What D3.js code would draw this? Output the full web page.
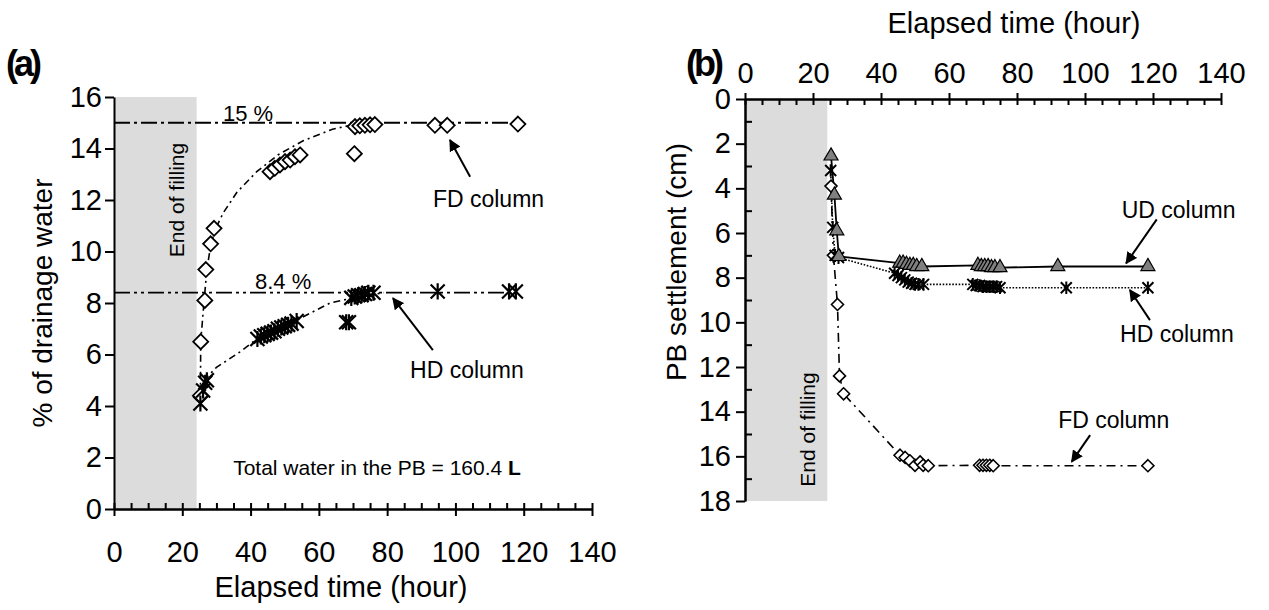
<!DOCTYPE html>
<html>
<head>
<meta charset="utf-8">
<script src="https://cdn.jsdelivr.net/npm/d3@7"></script>
<style>
  body { margin: 0; background: #fff; }
  text { font-family: "Liberation Sans", Arial, sans-serif; fill: #000; }
</style>
</head>
<body>
<script>
// ---- data (elapsed time in hours) ----
const fillEnd = 24.2;

// (a) % of drainage water
const fdDrainA = [[25.3,4.4],[25.4,6.5],[26.6,8.1],[26.9,9.3],[28.3,10.3],[29.3,10.9],
  [45.7,13.1],[47.1,13.23],[48.6,13.36],[50.1,13.49],[51.6,13.55],[53,13.68],[54.5,13.75],
  [70.4,13.8],[70.6,14.85],[72,14.88],[73.5,14.9],[75,14.92],[76.4,14.93],
  [94,14.9],[97.6,14.9],[118.3,14.95]];
const hdDrainA = [[25.3,4.1],[26.1,4.6],[26.7,4.9],[27.2,5.0],
  [42,6.6],[43,6.7],[44,6.75],[45,6.8],[46,6.85],[47,6.9],[48,7.0],[49,7.05],[50,7.1],[51,7.15],[52,7.2],[53.5,7.3],
  [68,7.25],[68.8,7.25],[69.5,8.2],[70.5,8.25],[71.5,8.3],[72.5,8.3],[73.5,8.35],[74.5,8.4],[76,8.4],
  [94.8,8.45],[115.7,8.45],[117.7,8.45]];
// trend curves as they appear in the figure
const fdFitA = [[25.3,4.4],[25.4,6.5],[26.4,8.1],[27.2,9.3],[28.4,10.3],[29.8,10.9],[32,11.5],[36,12.3],
  [41.8,13.1],[48,13.75],[55.4,14.3],[64,14.75],[70,14.92],[75,15]];
const hdFitA = [[25.5,4.3],[27.1,5.1],[30,5.5],[36.9,6.1],[41.8,6.6],[48,7.0],[54.5,7.4],[63.3,8.0],[70,8.2],[79,8.4]];
const levelsA = [{v: 15, label: "15 %", t0: 0, t1: 118, lx: 31.9, ly: 15.07, dash: "16,4,3,4"},
                 {v: 8.4, label: "8.4 %", t0: 0, t1: 119, lx: 41.3, ly: 8.55, dash: "16,4,3,4,3,4"}];

// (b) PB settlement (cm)
const udSettle = [[25.3,2.55],[26.3,4.3],[27,5.9],[27.6,7.05],
  [45.5,7.35],[46.5,7.35],[47.5,7.4],[48.5,7.45],[49.5,7.45],[50.5,7.5],[52,7.5],
  [68.5,7.45],[69.5,7.5],[70.5,7.5],[71.5,7.5],[72.5,7.55],[73.5,7.55],[75,7.55],[92,7.5],[118.5,7.5]];
const hdSettle = [[25.2,3.2],[25.8,5.75],[26.5,7.0],[27.5,7.1],
  [44,7.8],[45,7.9],[46,8.0],[47,8.1],[48,8.2],[49,8.25],[50,8.3],[51,8.3],[52.5,8.3],
  [67,8.3],[68,8.35],[69,8.35],[70,8.4],[71,8.4],[72,8.4],[73,8.4],[74,8.4],[75,8.45],[94.5,8.45],[118.5,8.45]];
const fdSettle = [[25.3,3.9],[26,7.0],[27.2,9.2],[27.8,12.4],[29,13.2],
  [45.6,15.95],[47.1,16.05],[48.5,16.2],[50,16.4],[51.5,16.25],[52.4,16.4],[53.9,16.42],
  [69,16.4],[70,16.4],[71,16.4],[72,16.4],[73,16.42],[118.5,16.42]];

const xTicks = d3.range(0, 141, 20);
const xMinor = d3.range(0, 141, 5);
const yTicksA = d3.range(0, 17, 2);
const yTicksB = d3.range(0, 19, 2);
const yMinorB = d3.range(1, 18, 2);

// ---- layout ----
const svg = d3.select("body").append("svg").attr("width", 1269).attr("height", 610);
const defs = svg.append("defs");
defs.append("marker").attr("id", "arr").attr("viewBox", "0 0 10 10")
  .attr("refX", 9).attr("refY", 5).attr("markerWidth", 6).attr("markerHeight", 6)
  .attr("markerUnits", "strokeWidth").attr("orient", "auto")
  .append("path").attr("d", "M0,0L10,5L0,10Z").attr("fill", "#000");

const xA = d3.scaleLinear().domain([0, 140]).range([114, 592]);
const yA = d3.scaleLinear().domain([0, 16]).range([509, 97]);
const xB = d3.scaleLinear().domain([0, 140]).range([745, 1221]);
const yB = d3.scaleLinear().domain([0, 18]).range([99, 501]);

function diamond(x, y, r) { return `M${x},${y-r}L${x+r},${y}L${x},${y+r}L${x-r},${y}Z`; }
function star(x, y, r) {
  return `M${x-r},${y-r}L${x+r},${y+r}M${x-r},${y+r}L${x+r},${y-r}M${x},${y-r*1.15}L${x},${y+r*1.15}`;
}

function styleAxis(g, fs) {
  g.selectAll("path.domain").attr("stroke", "#000").attr("stroke-width", 2);
  g.selectAll(".tick line").attr("stroke", "#000").attr("stroke-width", 2);
  g.selectAll(".tick text").attr("font-size", fs).attr("font-family", '"Liberation Sans", Arial, sans-serif').attr("fill", "#000");
}

// ================= panel (a) =================
const ga = svg.append("g");
ga.append("rect").attr("x", xA(0)).attr("y", yA(16)).attr("width", xA(fillEnd) - xA(0))
  .attr("height", yA(0) - yA(16)).attr("fill", "#dcdcdc");

ga.append("text").attr("transform", `translate(${xA(fillEnd) - 13},${yA(12)}) rotate(-90)`)
  .attr("text-anchor", "middle").attr("font-size", 21).text("End of filling");

const lineA = d3.line().x(d => xA(d[0])).y(d => yA(d[1]));

levelsA.forEach(l => {
  ga.append("line").attr("x1", xA(l.t0)).attr("x2", xA(l.t1)).attr("y1", yA(l.v)).attr("y2", yA(l.v))
    .attr("stroke", "#000").attr("stroke-width", 1.8).attr("stroke-dasharray", l.dash);
  ga.append("text").attr("x", xA(l.lx)).attr("y", yA(l.ly)).attr("font-size", 22).text(l.label);
});
ga.append("path").attr("d", lineA(fdFitA)).attr("fill", "none").attr("stroke", "#000")
  .attr("stroke-width", 1.6).attr("stroke-dasharray", "7,4,2,4");
ga.append("path").attr("d", lineA(hdFitA)).attr("fill", "none").attr("stroke", "#000")
  .attr("stroke-width", 1.6).attr("stroke-dasharray", "7,4,2,4");

ga.selectAll("path.fdA").data(fdDrainA).join("path").attr("class", "fdA")
  .attr("d", d => diamond(xA(d[0]), yA(d[1]), 7.5))
  .attr("fill", "#fff").attr("stroke", "#000").attr("stroke-width", 1.8);
ga.selectAll("path.hdA").data(hdDrainA).join("path").attr("class", "hdA")
  .attr("d", d => star(xA(d[0]), yA(d[1]), 7))
  .attr("fill", "none").attr("stroke", "#000").attr("stroke-width", 2.2);

// axes (a)
const axA = ga.append("g").attr("transform", `translate(0,${yA(0)})`)
  .call(d3.axisBottom(xA).tickValues(xTicks).tickSize(7).tickSizeOuter(0).tickPadding(25));
styleAxis(axA, 29);
const axA2 = ga.append("g").attr("transform", `translate(0,${yA(0)})`)
  .call(d3.axisTop(xA).tickValues(xMinor).tickSize(6).tickSizeOuter(0).tickFormat(""));
styleAxis(axA2, 29);
const ayA = ga.append("g").attr("transform", `translate(${xA(0)},0)`)
  .call(d3.axisLeft(yA).tickValues(yTicksA).tickSize(9).tickSizeOuter(0).tickPadding(3));
styleAxis(ayA, 29);

ga.append("text").attr("x", (xA(0) + xA(140)) / 2 - 12).attr("y", 597).attr("text-anchor", "middle")
  .attr("font-size", 29).text("Elapsed time (hour)");
ga.append("text").attr("transform", `translate(52,${yA(8)}) rotate(-90)`).attr("text-anchor", "middle")
  .attr("font-size", 28).text("% of drainage water");

// annotations (a)
ga.append("line").attr("x1", xA(104.3)).attr("y1", yA(12.9)).attr("x2", xA(98.4)).attr("y2", yA(14.33))
  .attr("stroke", "#000").attr("stroke-width", 2).attr("marker-end", "url(#arr)");
ga.append("text").attr("x", xA(93.4)).attr("y", yA(11.73)).attr("font-size", 23).text("FD column");
ga.append("line").attr("x1", xA(93.4)).attr("y1", yA(6.17)).attr("x2", xA(81.7)).attr("y2", yA(8.19))
  .attr("stroke", "#000").attr("stroke-width", 2).attr("marker-end", "url(#arr)");
ga.append("text").attr("x", xA(86.7)).attr("y", yA(5.09)).attr("font-size", 23).text("HD column");
const tw = ga.append("text").attr("x", xA(34.9)).attr("y", yA(1.32)).attr("font-size", 21);
tw.append("tspan").text("Total water in the PB = 160.4 ");
tw.append("tspan").attr("font-weight", "bold").text("L");

ga.append("text").attr("x", 6).attr("y", 76).attr("font-size", 36).attr("font-weight", "bold")
  .attr("letter-spacing", -4).text("(a)");

// ================= panel (b) =================
const gb = svg.append("g");
gb.append("rect").attr("x", xB(0)).attr("y", yB(0)).attr("width", xB(fillEnd) - xB(0))
  .attr("height", yB(18) - yB(0)).attr("fill", "#dcdcdc");
gb.append("text").attr("transform", `translate(${xB(fillEnd) - 12},${yB(14.8)}) rotate(-90)`)
  .attr("text-anchor", "middle").attr("font-size", 21).text("End of filling");

const lineB = d3.line().x(d => xB(d[0])).y(d => yB(d[1]));
gb.append("path").attr("d", lineB(fdSettle)).attr("fill", "none").attr("stroke", "#000")
  .attr("stroke-width", 1.6).attr("stroke-dasharray", "9,5,2,5");
gb.append("path").attr("d", lineB(hdSettle)).attr("fill", "none").attr("stroke", "#000")
  .attr("stroke-width", 1.6).attr("stroke-dasharray", "1.6,1.6");
gb.append("path").attr("d", lineB(udSettle)).attr("fill", "none").attr("stroke", "#000")
  .attr("stroke-width", 1.8);

gb.selectAll("path.fdB").data(fdSettle).join("path").attr("class", "fdB")
  .attr("d", d => diamond(xB(d[0]), yB(d[1]), 6))
  .attr("fill", "#fff").attr("stroke", "#000").attr("stroke-width", 1.6);
gb.selectAll("path.hdB").data(hdSettle).join("path").attr("class", "hdB")
  .attr("d", d => star(xB(d[0]), yB(d[1]), 5.5))
  .attr("fill", "none").attr("stroke", "#000").attr("stroke-width", 2);
gb.selectAll("path.udB").data(udSettle).join("path").attr("class", "udB")
  .attr("transform", d => `translate(${xB(d[0])},${yB(d[1])})`)
  .attr("d", d3.symbol(d3.symbolTriangle, 85))
  .attr("fill", "#808080").attr("stroke", "#000").attr("stroke-width", 1.2);

// axes (b)
const axB = gb.append("g").attr("transform", `translate(0,${yB(0)})`)
  .call(d3.axisTop(xB).tickValues(xTicks).tickSize(6).tickSizeOuter(0).tickPadding(10));
styleAxis(axB, 29);
const axB2 = gb.append("g").attr("transform", `translate(0,${yB(0)})`)
  .call(d3.axisBottom(xB).tickValues(xMinor).tickSize(6).tickSizeOuter(0).tickFormat(""));
styleAxis(axB2, 29);
const ayB = gb.append("g").attr("transform", `translate(${xB(0)},0)`)
  .call(d3.axisLeft(yB).tickValues(yTicksB).tickSize(9).tickSizeOuter(0).tickPadding(5));
styleAxis(ayB, 29);
const ayB2 = gb.append("g").attr("transform", `translate(${xB(0)},0)`)
  .call(d3.axisRight(yB).tickValues(yMinorB).tickSize(7).tickSizeOuter(0).tickFormat(""));
styleAxis(ayB2, 29);

gb.append("text").attr("x", 1014).attr("y", 33).attr("text-anchor", "middle")
  .attr("font-size", 29).text("Elapsed time (hour)");
gb.append("text").attr("transform", `translate(686,${yB(7.3)}) rotate(-90)`).attr("text-anchor", "middle")
  .attr("font-size", 28).text("PB settlement (cm)");

// annotations (b)
const notesB = [
  {label: "UD column", tx: 110.8, ty: 5.34, a: [121.1, 5.39, 112.1, 7.36]},
  {label: "HD column", tx: 110.3, ty: 10.87, a: [119.1, 9.9, 113.2, 8.55]},
  {label: "FD column", tx: 92.1, ty: 14.73, a: [101.5, 15.05, 96.1, 16.24]}
];
notesB.forEach(n => {
  gb.append("line").attr("x1", xB(n.a[0])).attr("y1", yB(n.a[1])).attr("x2", xB(n.a[2])).attr("y2", yB(n.a[3]))
    .attr("stroke", "#000").attr("stroke-width", 2).attr("marker-end", "url(#arr)");
  gb.append("text").attr("x", xB(n.tx)).attr("y", yB(n.ty)).attr("font-size", 23).text(n.label);
});

gb.append("text").attr("x", 686).attr("y", 76).attr("font-size", 36).attr("font-weight", "bold")
  .attr("letter-spacing", -4).text("(b)");
</script>
</body>
</html>
